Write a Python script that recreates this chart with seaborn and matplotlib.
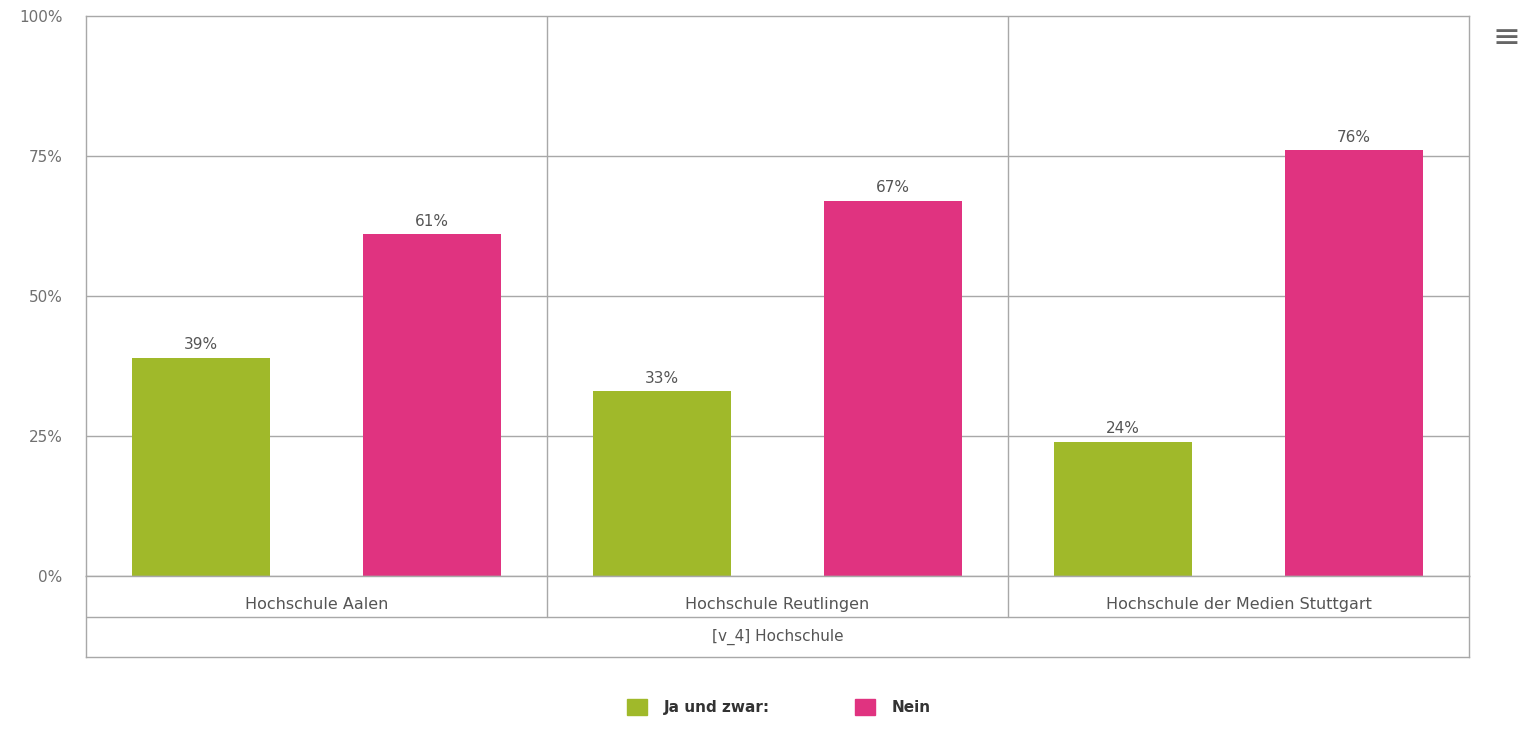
import matplotlib
matplotlib.use("Agg")
import matplotlib.pyplot as plt
import pandas as pd
import seaborn as sns

# data
schools = ["Hochschule Aalen", "Hochschule Reutlingen", "Hochschule der Medien Stuttgart"]
answers = ["Ja und zwar:", "Nein"]
ja_values = [39, 33, 24]
nein_values = [61, 67, 76]
y_ticks = [0, 25, 50, 75, 100]
axis_title = "[v_4] Hochschule"

colors = {"Ja und zwar:": "#a0b92a", "Nein": "#e03380"}
grid_col = "#a8a8a8"
text_col = "#707070"

df = pd.DataFrame({
    "school": schools * 2,
    "answer": [answers[0]] * 3 + [answers[1]] * 3,
    "value": ja_values + nein_values,
})

sns.set_style("white")
plt.rcParams["font.family"] = ["DejaVu Sans"]

fig = plt.figure(figsize=(15.23, 7.45), dpi=100)
left, width = 86 / 1523, (1469 - 86) / 1523
ax = fig.add_axes([left, 1 - 576 / 745, width, (576 - 16) / 745])

sns.barplot(data=df, x="school", y="value", hue="answer", palette=colors,
            width=1.0, gap=0.4, saturation=1, linewidth=0, ax=ax, legend=False)

ax.set_ylim(0, 100)
ax.set_xlim(-0.5, len(schools) - 0.5)
ax.set_yticks(y_ticks)
ax.set_yticklabels([f"{t}%" for t in y_ticks], fontsize=11, color=text_col)
ax.tick_params(axis="y", length=0, pad=17)
ax.set_xticks([])
ax.set_xlabel("")
ax.set_ylabel("")
for t in y_ticks[1:-1]:
    ax.axhline(t, color=grid_col, lw=1, zorder=0)
for i in range(1, len(schools)):
    ax.axvline(i - 0.5, color=grid_col, lw=1, zorder=0)
for s in ax.spines.values():
    s.set_color(grid_col)
    s.set_linewidth(1)

for cont in ax.containers:
    ax.bar_label(cont, labels=[f"{v:.0f}%" for v in cont.datavalues],
                 padding=4, fontsize=11, color="#555555")

# category table under the plot
tbl = fig.add_axes([left, 1 - 657 / 745, width, (657 - 576) / 745])
tbl.set_xlim(-0.5, len(schools) - 0.5)
tbl.set_ylim(0, 2)
tbl.set_xticks([])
tbl.set_yticks([])
for s in tbl.spines.values():
    s.set_color(grid_col)
    s.set_linewidth(1)
tbl.axhline(1, color=grid_col, lw=1)
for i in range(1, len(schools)):
    tbl.plot([i - 0.5, i - 0.5], [1, 2], color=grid_col, lw=1)
for i, name in enumerate(schools):
    tbl.text(i, 1.3, name, ha="center", va="center", fontsize=11.5, color="#555555")
tbl.text(1, 0.5, axis_title, ha="center", va="center", fontsize=11, color="#555555")

# legend
handles = [plt.Rectangle((0, 0), 1, 1, color=colors[a]) for a in answers]
leg = fig.legend(handles, answers, loc="center", bbox_to_anchor=(779 / 1523, 1 - 707 / 745),
                 ncol=2, frameon=False, handlelength=1.3, handleheight=1.3,
                 columnspacing=5.6, handletextpad=1.1,
                 prop={"weight": "bold", "size": 11})
for t in leg.get_texts():
    t.set_color("#333333")

# menu icon
fig.text(1506 / 1523, 1 - 37 / 745, "≡", ha="center", va="center",
         fontsize=24, color="#666666")

fig.savefig("out.png", dpi=100)
